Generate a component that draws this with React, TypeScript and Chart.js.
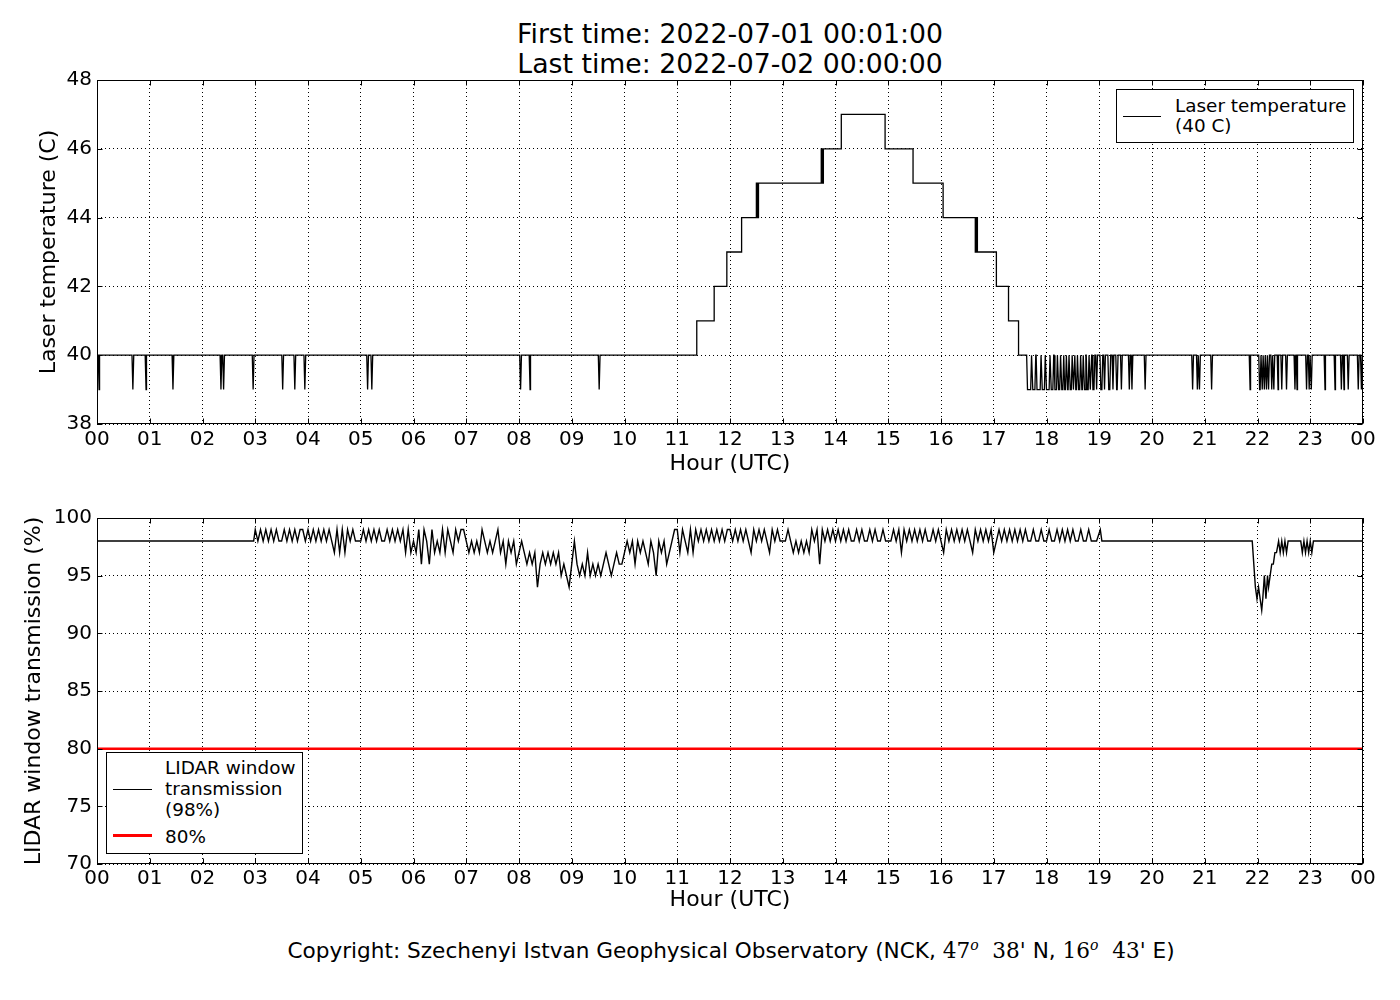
import React, { useEffect, useRef } from 'react';
import { Chart, registerables } from 'chart.js';

Chart.register(...registerables);

const FONT = "'DejaVu Sans', sans-serif";
const MIN = 1 / 60;

// laser temperature (C): change points [hour, new value], level is 40 before the first one
const laserSteps: [number, number][] = [
  [11.37, 41], [11.70, 42], [11.94, 43], [12.22, 44], [12.50, 45], [12.52, 44], [12.54, 45],
  [13.73, 46], [13.75, 45], [13.77, 46], [14.11, 47], [14.94, 46], [15.47, 45], [16.04, 44],
  [16.65, 43], [16.67, 44], [16.69, 43], [17.05, 42], [17.28, 41], [17.47, 40],
];

// stretches [from, to] (hours) where the laser reads 39 C; from == to is a one-minute dip
const laserLowRuns: [number, number][] = [
  [0.04, 0.04], [0.68, 0.68], [0.93, 0.93], [1.44, 1.44], [2.35, 2.35], [2.40, 2.40], [2.96, 2.96],
  [3.52, 3.52], [3.75, 3.75], [3.94, 3.94], [5.13, 5.13], [5.21, 5.21], [8.03, 8.03], [8.21, 8.21],
  [9.52, 9.52],
  [17.64, 17.70], [17.74, 17.78], [17.82, 17.88], [17.92, 17.96], [18.00, 18.05], [18.09, 18.12],
  [18.16, 18.19], [18.23, 18.25], [18.29, 18.31], [18.345, 18.36], [18.40, 18.41], [18.45, 18.47],
  [18.51, 18.52], [18.555, 18.57], [18.61, 18.63], [18.67, 18.68], [18.72, 18.73], [18.77, 18.79],
  [18.83, 18.84], [18.88, 18.90], [18.95, 18.95], [19.03, 19.05], [19.10, 19.10], [19.18, 19.20],
  [19.26, 19.26], [19.33, 19.34], [19.42, 19.42], [19.57, 19.57], [19.62, 19.62], [19.87, 19.87],
  [20.77, 20.77], [20.86, 20.86], [20.90, 20.90], [21.13, 21.13], [21.86, 21.86], [22.04, 22.05],
  [22.09, 22.09], [22.13, 22.13], [22.17, 22.17], [22.21, 22.21], [22.27, 22.27], [22.31, 22.31],
  [22.39, 22.39], [22.46, 22.46], [22.55, 22.55], [22.71, 22.71], [22.75, 22.75], [22.93, 22.93],
  [22.98, 22.98], [23.02, 23.02], [23.28, 23.28], [23.47, 23.47], [23.59, 23.59], [23.64, 23.64],
  [23.72, 23.72], [23.91, 23.91], [23.97, 23.97],
];

// LIDAR window transmission (%), 3-minute readings for each hour 03..18 UTC
const trans03 = [99, 98, 99, 98, 99, 98, 99, 98, 99, 98, 98, 99, 98, 99, 98, 99, 98, 99, 99, 98];
const trans04 = [99, 98, 99, 98, 99, 98, 99, 98, 99, 98, 97, 99, 97, 99, 97, 99, 98, 99, 98, 98];
const trans05 = [98, 99, 98, 99, 98, 99, 98, 99, 98, 98, 99, 98, 99, 98, 99, 98, 99, 97, 99, 97];
const trans06 = [98, 97, 99, 96, 99, 98, 96, 99, 97, 98, 97, 99, 97, 99, 98, 97, 99, 98, 99, 99];
const trans07 = [98, 97, 98, 97, 98, 97, 99, 98, 97, 98, 97, 98, 99, 97, 98, 96, 98, 97, 98, 96];
const trans08 = [97, 98, 97, 96, 97, 96, 97, 94, 96, 97, 96, 97, 96, 97, 96, 97, 95, 96, 95, 94];
const trans09 = [96, 98, 96, 95, 96, 95, 97, 95, 96, 95, 96, 95, 96, 97, 96, 95, 96, 97, 96, 96];
const trans10 = [97, 98, 97, 98, 96, 98, 97, 98, 97, 96, 98, 97, 95, 98, 97, 98, 96, 97, 98, 99];
const trans11 = [99, 97, 99, 98, 97, 99, 97, 99, 98, 99, 98, 99, 98, 99, 98, 99, 98, 99, 98, 99];
const trans12 = [99, 98, 99, 98, 99, 98, 99, 98, 97, 99, 98, 99, 98, 99, 98, 97, 99, 98, 99, 98];
const trans13 = [98, 98, 99, 98, 97, 98, 97, 98, 97, 98, 97, 99, 98, 99, 96, 99, 98, 99, 98, 99];
const trans14 = [98, 99, 98, 99, 98, 99, 98, 98, 99, 98, 99, 98, 98, 99, 98, 99, 98, 98, 99, 98];
const trans15 = [98, 98, 99, 98, 99, 97, 99, 98, 99, 98, 99, 98, 99, 98, 99, 98, 98, 99, 98, 99];
const trans16 = [98, 97, 99, 98, 99, 98, 99, 98, 99, 98, 99, 98, 97, 99, 98, 99, 98, 99, 98, 99];
const trans17 = [97, 98, 99, 98, 99, 98, 99, 98, 99, 98, 99, 98, 99, 98, 98, 99, 98, 98, 99, 98];
const trans18 = [98, 99, 98, 98, 99, 98, 99, 98, 99, 98, 99, 98, 98, 99, 98, 98, 99, 98, 98, 98];
const transHours = [trans03, trans04, trans05, trans06, trans07, trans08, trans09, trans10,
  trans11, trans12, trans13, trans14, trans15, trans16, trans17, trans18];

// quiet stretches and the evening dip, [hour, %]
const transBefore: [number, number][] = [[0, 98], [2.97, 98]];
const transAfter: [number, number][] = [
  [19.02, 99], [19.05, 98], [21.90, 98], [21.93, 96], [21.96, 94], [21.99, 93], [22.02, 94],
  [22.05, 93], [22.08, 92], [22.10, 93], [22.13, 95], [22.16, 93], [22.19, 95], [22.21, 94],
  [22.24, 95], [22.27, 96], [22.30, 96], [22.33, 97], [22.36, 97], [22.40, 98], [22.43, 97],
  [22.46, 98], [22.49, 97], [22.52, 98], [22.55, 97], [22.58, 98], [22.82, 98], [22.85, 97],
  [22.88, 98], [22.91, 97], [22.94, 98], [22.97, 97], [23.00, 98], [23.03, 97], [23.06, 98],
  [24, 98],
];

const thresholdHours = [0, 24];
const thresholdValue = 80;

type Pt = { x: number; y: number };

function laserPoints(): Pt[] {
  const pts: Pt[] = [{ x: 0, y: 40 }];
  let prev = 40;
  for (const [t, v] of laserSteps) { pts.push({ x: t, y: prev }, { x: t, y: v }); prev = v; }
  for (const [s, e] of laserLowRuns) {
    pts.push({ x: s - MIN, y: 40 }, { x: s, y: 39 }, { x: e, y: 39 }, { x: e + MIN, y: 40 });
  }
  pts.push({ x: 24, y: 40 });
  return pts.sort((a, b) => a.x - b.x);
}

function transPoints(): Pt[] {
  const pts: Pt[] = transBefore.map(([x, y]) => ({ x, y }));
  transHours.forEach((vals, k) => vals.forEach((v, i) => pts.push({ x: 3 + k + i * 0.05, y: v })));
  transAfter.forEach(([x, y]) => pts.push({ x, y }));
  return pts;
}

// matplotlib-ish closed frame with inward ticks
const framePlugin = {
  id: 'frame',
  afterDatasetsDraw(chart: Chart) {
    const { ctx, chartArea: a, scales } = chart;
    const l = Math.round(a.left) + 0.5, r = Math.round(a.right) - 0.5;
    const t = Math.round(a.top) + 0.5, b = Math.round(a.bottom) - 0.5;
    ctx.save();
    ctx.strokeStyle = '#000';
    ctx.lineWidth = 1;
    ctx.strokeRect(l, t, r - l, b - t);
    ctx.beginPath();
    for (const tk of scales.x.ticks) {
      const px = Math.round(scales.x.getPixelForValue(tk.value)) + 0.5;
      ctx.moveTo(px, t); ctx.lineTo(px, t + 5);
      ctx.moveTo(px, b); ctx.lineTo(px, b - 5);
    }
    for (const tk of scales.y.ticks) {
      const py = Math.round(scales.y.getPixelForValue(tk.value)) + 0.5;
      ctx.moveTo(l, py); ctx.lineTo(l + 5, py);
      ctx.moveTo(r, py); ctx.lineTo(r - 5, py);
    }
    ctx.stroke();
    ctx.restore();
  },
};

function xScale(labelPad: number, height: number) {
  return {
    type: 'linear', min: 0, max: 24,
    ticks: {
      stepSize: 1, autoSkip: false, maxRotation: 0, padding: labelPad, color: '#000',
      font: { family: FONT, size: 20 },
      callback: (v: number | string) => String(Number(v) % 24).padStart(2, '0'),
    },
    grid: { color: '#000', lineWidth: 1, drawTicks: false },
    border: { display: false, dash: [1, 3] },
    title: { display: true, text: 'Hour (UTC)', color: '#000', font: { family: FONT, size: 22 }, padding: { top: 0, bottom: 1 } },
    afterFit: (s: { height: number }) => { s.height = height; },
  };
}

function yScale(min: number, max: number, step: number, text: string, titlePad: number) {
  return {
    min, max,
    ticks: { stepSize: step, padding: 5, color: '#000', font: { family: FONT, size: 20 } },
    grid: { color: '#000', lineWidth: 1, drawTicks: false },
    border: { display: false, dash: [1, 3] },
    title: { display: true, text, color: '#000', font: { family: FONT, size: 22 }, padding: { top: titlePad, bottom: 0 } },
    afterFit: (s: { width: number }) => { s.width = 97; },
  };
}

const baseOpts = {
  responsive: false,
  animation: false,
  events: [],
  plugins: { legend: { display: false }, tooltip: { enabled: false } },
  elements: { point: { radius: 0 } },
};

export default function App() {
  const topRef = useRef<HTMLCanvasElement>(null);
  const botRef = useRef<HTMLCanvasElement>(null);

  useEffect(() => {
    if (!topRef.current || !botRef.current) return;
    const top = new Chart(topRef.current, {
      type: 'line',
      data: {
        datasets: [{ data: laserPoints(), borderColor: '#000', borderWidth: 1.3, pointRadius: 0, fill: false }],
      },
      // eslint-disable-next-line @typescript-eslint/no-explicit-any
      options: {
        ...baseOpts,
        layout: { padding: { left: 0, right: 37, top: 80, bottom: 2 } },
        scales: { x: xScale(4, 54), y: yScale(38, 48, 2, 'Laser temperature (C)', 36) },
      } as any,
      plugins: [framePlugin],
    });
    const bot = new Chart(botRef.current, {
      type: 'line',
      data: {
        datasets: [
          { data: transPoints(), borderColor: '#000', borderWidth: 1.4, pointRadius: 0, fill: false },
          {
            data: thresholdHours.map(x => ({ x, y: thresholdValue })),
            borderColor: '#ff0000', borderWidth: 2.5, pointRadius: 0, fill: false,
          },
        ],
      },
      options: {
        ...baseOpts,
        layout: { padding: { left: 0, right: 37, top: 38, bottom: 6 } },
        scales: { x: xScale(3, 50), y: yScale(70, 100, 5, 'LIDAR window transmission (%)', 21) },
      } as any,
      plugins: [framePlugin],
    });
    return () => { top.destroy(); bot.destroy(); };
  }, []);

  const text = { fontFamily: FONT, color: '#000', position: 'absolute' as const };
  const serif = { fontFamily: "'DejaVu Serif', serif" };
  const sup = { fontSize: 14, fontStyle: 'italic' as const };

  return (
    <div style={{ position: 'fixed', left: 0, top: 0, width: 1400, height: 1000, background: '#fff', overflow: 'hidden' }}>
      <div style={{ ...text, left: 97, top: 19, width: 1266, textAlign: 'center', fontSize: 26.7, lineHeight: '30px' }}>
        First time: 2022-07-01 00:01:00<br />Last time: 2022-07-02 00:00:00
      </div>
      <canvas ref={topRef} width={1400} height={480} style={{ position: 'absolute', left: 0, top: 0 }} />
      <canvas ref={botRef} width={1400} height={440} style={{ position: 'absolute', left: 0, top: 480 }} />

      <div style={{ position: 'absolute', left: 1116, top: 89, width: 238, height: 54, border: '1px solid #000', background: '#fff', boxSizing: 'border-box' }}>
        <div style={{ position: 'absolute', left: 6, top: 26, width: 38, height: 1, background: '#000' }} />
        <div style={{ ...text, left: 58, top: 6, fontSize: 18.4, lineHeight: '20px', whiteSpace: 'nowrap' }}>
          Laser temperature<br />(40 C)
        </div>
      </div>

      <div style={{ position: 'absolute', left: 106, top: 752, width: 197, height: 102, border: '1px solid #000', background: '#fff', boxSizing: 'border-box' }}>
        <div style={{ position: 'absolute', left: 6, top: 36, width: 39, height: 1, background: '#000' }} />
        <div style={{ position: 'absolute', left: 6, top: 81, width: 39, height: 3, background: '#ff0000' }} />
        <div style={{ ...text, left: 58, top: 4, fontSize: 18.4, lineHeight: '21px', whiteSpace: 'nowrap' }}>
          LIDAR window<br />transmission<br />(98%)
        </div>
        <div style={{ ...text, left: 58, top: 73, fontSize: 18.4, lineHeight: '21px' }}>80%</div>
      </div>

      <div style={{ ...text, left: 0, top: 932, width: 1462, textAlign: 'center', fontSize: 21.6, lineHeight: '26px', whiteSpace: 'nowrap' }}>
        Copyright: Szechenyi Istvan Geophysical Observatory (NCK,{' '}
        <span style={serif}>47<sup style={sup}>o</sup>&nbsp;&nbsp;38'</span> N,{' '}
        <span style={serif}>16<sup style={sup}>o</sup>&nbsp;&nbsp;43'</span> E)
      </div>
    </div>
  );
}
